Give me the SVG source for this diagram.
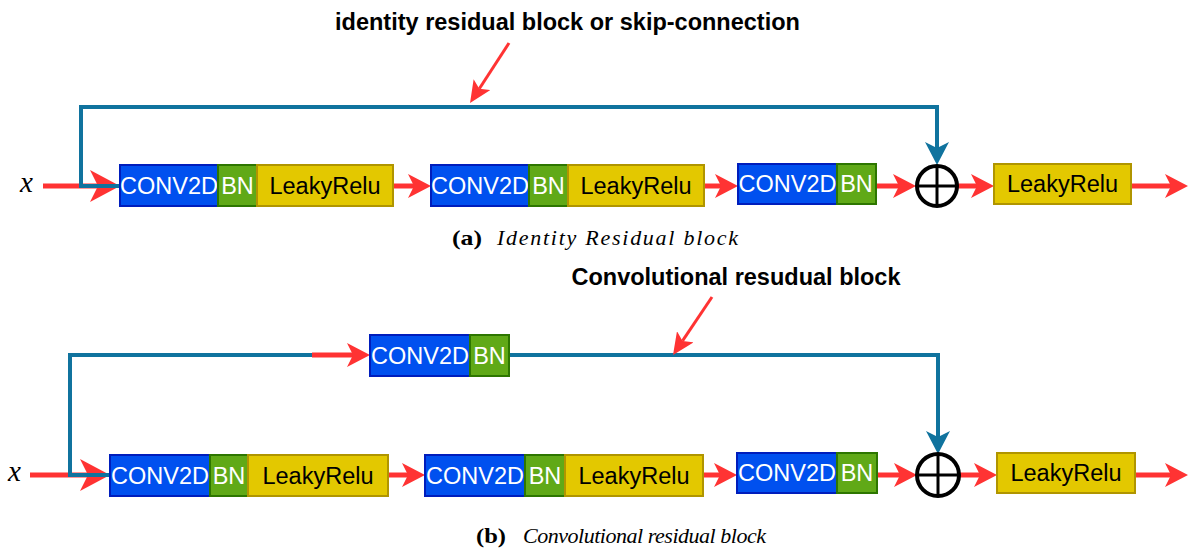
<svg xmlns="http://www.w3.org/2000/svg" width="1193" height="554" viewBox="0 0 1193 554">
<style>
.conv{fill:#0050ef;stroke:#001DBC;stroke-width:2}
.bn{fill:#60a917;stroke:#2D7600;stroke-width:2}
.lr{fill:#e3c800;stroke:#B09500;stroke-width:2}
.wl{font-family:"Liberation Sans",Arial,sans-serif;font-size:23.5px;fill:#ffffff;text-anchor:middle}
.bl{font-family:"Liberation Sans",Arial,sans-serif;font-size:23.5px;fill:#000000;text-anchor:middle}
.ann{font-family:"Liberation Sans",Arial,sans-serif;font-size:23.5px;font-weight:bold;fill:#000;text-anchor:middle}
.cap{font-family:"Liberation Serif","Times New Roman",serif;font-size:22px;fill:#000}
.red{fill:none;stroke:#ff3333;stroke-width:5}
.redt{fill:none;stroke:#ff3333;stroke-width:3}
.teal{fill:none;stroke:#10739E;stroke-width:4}
.sum{fill:#ffffff;stroke:#000;stroke-width:4}
.sumx{stroke:#000;stroke-width:3}
.mx{font-family:"Liberation Serif","Times New Roman",serif;font-style:italic;font-size:29px;fill:#000}
</style>
<defs>
<marker id="ar" viewBox="0 0 23 24" refX="6" refY="12" markerWidth="23" markerHeight="24" markerUnits="userSpaceOnUse" orient="auto"><path d="M0,0 L23,12 L0,24 L6,12 Z" fill="#ff3333"/></marker>
<marker id="arb" viewBox="0 0 30 32" refX="8" refY="16" markerWidth="30" markerHeight="32" markerUnits="userSpaceOnUse" orient="auto"><path d="M0,0 L30,16 L0,32 L8,16 Z" fill="#ff3333"/></marker>
<marker id="ars" viewBox="0 0 22 20" refX="5" refY="10" markerWidth="22" markerHeight="20" markerUnits="userSpaceOnUse" orient="auto"><path d="M0,0 L22,10 L0,20 L5,10 Z" fill="#ff3333"/></marker>
<marker id="at" viewBox="0 0 23 24" refX="6" refY="12" markerWidth="23" markerHeight="24" markerUnits="userSpaceOnUse" orient="auto"><path d="M0,0 L23,12 L0,24 L6,12 Z" fill="#10739E"/></marker>
</defs>
<rect width="1193" height="554" fill="#ffffff"/>

<!-- annotations -->
<text class="ann" x="567.5" y="30">identity residual block or skip-connection</text>
<text class="ann" x="736" y="285">Convolutional resudual block</text>
<text class="mx" x="20" y="192">x</text>
<text class="mx" x="8" y="481">x</text>
<text class="cap" x="452" y="245" font-weight="bold" textLength="30" lengthAdjust="spacingAndGlyphs">(a)</text>
<text class="cap" x="497" y="245" font-style="italic" textLength="241" lengthAdjust="spacing">Identity Residual block</text>
<text class="cap" x="476" y="543" font-weight="bold" textLength="30" lengthAdjust="spacingAndGlyphs">(b)</text>
<text class="cap" x="523" y="543" font-style="italic" textLength="243" lengthAdjust="spacing">Convolutional residual block</text>

<g id="connectors">
  <!-- row a -->
  <path class="red" d="M43,186 H98" marker-end="url(#arb)"/>
  <path class="red" d="M393,186 H414" marker-end="url(#ar)"/>
  <path class="red" d="M704,186 H721" marker-end="url(#ar)"/>
  <path class="red" d="M876,186 H899" marker-end="url(#ar)"/>
  <path class="red" d="M957,186 H977" marker-end="url(#ar)"/>
  <path class="red" d="M1131,186 H1171" marker-end="url(#ar)"/>
  <path class="teal" d="M120,186 H81 V107 H937 V148" marker-end="url(#at)"/>
  <path class="redt" d="M509,43 L479.3,88.8" marker-end="url(#ars)"/>
  <!-- row b -->
  <path class="red" d="M30,475 H88" marker-end="url(#arb)"/>
  <path class="red" d="M388,475 H408" marker-end="url(#ar)"/>
  <path class="red" d="M703,475 H720" marker-end="url(#ar)"/>
  <path class="red" d="M877,475 H900" marker-end="url(#ar)"/>
  <path class="red" d="M959,475 H980" marker-end="url(#ar)"/>
  <path class="red" d="M1135,475 H1171" marker-end="url(#ar)"/>
  <path class="teal" d="M110,475 H70 V355 H312"/>
  <path class="red" d="M312,355 H353" marker-end="url(#ar)"/>
  <path class="teal" d="M509,355 H938 V437" marker-end="url(#at)"/>
  <path class="redt" d="M712,297 L682.5,340.9" marker-end="url(#ars)"/>
</g>

<!-- row a nodes -->
<g id="a-conv1"><rect class="conv" x="120" y="165" width="98" height="41"/><text class="wl" x="169" y="194">CONV2D</text></g>
<g id="a-bn1"><rect class="bn" x="218" y="165" width="39" height="41"/><text class="wl" x="237.5" y="194">BN</text></g>
<g id="a-lr1"><rect class="lr" x="257" y="165" width="136" height="41"/><text class="bl" x="325" y="194">LeakyRelu</text></g>
<g id="a-conv2"><rect class="conv" x="431" y="165" width="98" height="41"/><text class="wl" x="480" y="194">CONV2D</text></g>
<g id="a-bn2"><rect class="bn" x="529" y="165" width="39" height="41"/><text class="wl" x="548.5" y="194">BN</text></g>
<g id="a-lr2"><rect class="lr" x="568" y="165" width="136" height="41"/><text class="bl" x="636" y="194">LeakyRelu</text></g>
<g id="a-conv3"><rect class="conv" x="738" y="164" width="99" height="40"/><text class="wl" x="787.5" y="192">CONV2D</text></g>
<g id="a-bn3"><rect class="bn" x="837" y="164" width="39" height="40"/><text class="wl" x="856.5" y="192">BN</text></g>
<g id="a-sum"><circle class="sum" cx="937" cy="186" r="20"/><line class="sumx" x1="917" y1="186" x2="957" y2="186"/><line class="sumx" x1="937" y1="166" x2="937" y2="206"/></g>
<g id="a-lr-out"><rect class="lr" x="994" y="164" width="137" height="40"/><text class="bl" x="1062.5" y="192">LeakyRelu</text></g>

<!-- row b nodes -->
<g id="b-skip-conv"><rect class="conv" x="370" y="335" width="100" height="41"/><text class="wl" x="420" y="364">CONV2D</text></g>
<g id="b-skip-bn"><rect class="bn" x="470" y="335" width="39" height="41"/><text class="wl" x="489.5" y="364">BN</text></g>
<g id="b-conv1"><rect class="conv" x="110" y="455" width="100" height="41"/><text class="wl" x="160" y="484">CONV2D</text></g>
<g id="b-bn1"><rect class="bn" x="210" y="455" width="38" height="41"/><text class="wl" x="229" y="484">BN</text></g>
<g id="b-lr1"><rect class="lr" x="248" y="455" width="140" height="41"/><text class="bl" x="318" y="484">LeakyRelu</text></g>
<g id="b-conv2"><rect class="conv" x="425" y="455" width="100" height="41"/><text class="wl" x="475" y="484">CONV2D</text></g>
<g id="b-bn2"><rect class="bn" x="525" y="455" width="40" height="41"/><text class="wl" x="545" y="484">BN</text></g>
<g id="b-lr2"><rect class="lr" x="565" y="455" width="138" height="41"/><text class="bl" x="634" y="484">LeakyRelu</text></g>
<g id="b-conv3"><rect class="conv" x="737" y="453" width="100" height="40"/><text class="wl" x="787" y="481">CONV2D</text></g>
<g id="b-bn3"><rect class="bn" x="837" y="453" width="40" height="40"/><text class="wl" x="857" y="481">BN</text></g>
<g id="b-sum"><circle class="sum" cx="938" cy="475" r="21"/><line class="sumx" x1="917" y1="475" x2="959" y2="475"/><line class="sumx" x1="938" y1="454" x2="938" y2="496"/></g>
<g id="b-lr-out"><rect class="lr" x="997" y="453" width="138" height="40"/><text class="bl" x="1066" y="481">LeakyRelu</text></g>
</svg>
